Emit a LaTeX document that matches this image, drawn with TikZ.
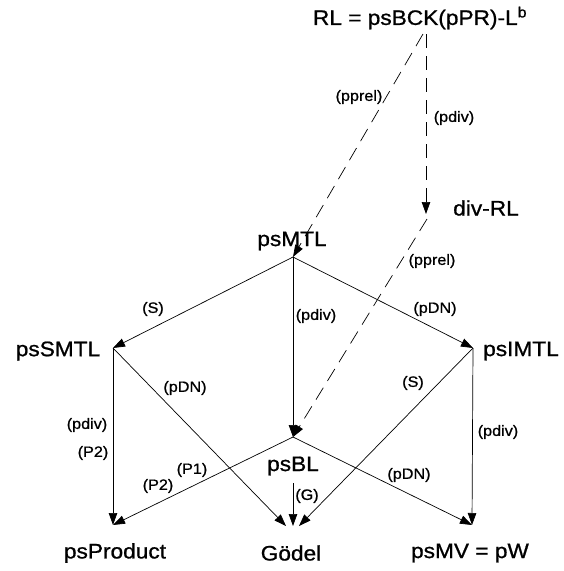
\documentclass[tikz,border=0pt]{standalone}
\usepackage{fontspec}
\setmainfont{Liberation Sans}[FakeStretch=1.08,FakeBold=0.9]
\usetikzlibrary{arrows.meta}
\begin{document}
\begin{tikzpicture}[x=1pt,y=-1pt,
  conn/.style={line width=0.7pt,-{Triangle[length=12pt,width=8.5pt]}},
  dconn/.style={conn,dash pattern=on 14pt off 8pt},
  bigtxt/.style={font=\fontsize{21}{23}\selectfont,inner sep=0pt},
  elab/.style={font=\fontsize{15}{17}\selectfont,inner sep=0pt}]
\useasboundingbox (0,0) rectangle (563,571);
% points
\coordinate (rla) at (423,34);
\coordinate (rlb) at (426,34);
\coordinate (div) at (426,214);
\coordinate (divs) at (427,219);
\coordinate (mtl) at (293,257);
\coordinate (smtl) at (113,348);
\coordinate (imtl) at (473,348);
\coordinate (bl) at (293,437);
\coordinate (blg) at (293,483);
\coordinate (prod) at (113,525);
\coordinate (g1) at (286,526);
\coordinate (g2) at (293,526);
\coordinate (g3) at (299,526);
\coordinate (mv) at (472,525);
% names
\node[bigtxt] (RL) at (420,18) {RL = psBCK(pPR)-L\textsuperscript{b}};
\node[bigtxt] (divRL) at (486,208) {div-RL};
\node[bigtxt] (MTL) at (292,241) {psMTL};
\node[bigtxt] (SMTL) at (58,351) {psSMTL};
\node[bigtxt] (IMTL) at (521,351) {psIMTL};
\node[bigtxt] (BL) at (293,466) {psBL};
\node[bigtxt] (Prod) at (115,553) {psProduct};
\node[bigtxt] (God) at (291,553) {Gödel};
\node[bigtxt] (MV) at (470,553) {psMV = pW};
% connectors
\draw[dconn] (rla) -- (mtl);
\draw[dconn] (rlb) -- (div);
\draw[dconn] (divs) -- (bl);
\draw[conn] (mtl) -- (smtl);
\draw[conn] (mtl) -- (imtl);
\draw[conn] (mtl) -- (bl);
\draw[conn] (smtl) -- (prod);
\draw[conn] (smtl) -- (g1);
\draw[conn] (imtl) -- (g3);
\draw[conn] (imtl) -- (mv);
\draw[conn] (bl) -- (prod);
\draw[conn] (bl) -- (mv);
\draw[conn] (blg) -- (g2);
% labels
\node[elab] (l1) at (359,97) {(pprel)};
\node[elab] (l2) at (454,118) {(pdiv)};
\node[elab] (l3) at (432,261) {(pprel)};
\node[elab] (l4) at (153,309) {(S)};
\node[elab] (l5) at (435,309) {(pDN)};
\node[elab] (l6) at (316,316) {(pdiv)};
\node[elab] (l7) at (185,388) {(pDN)};
\node[elab] (l8) at (413,383) {(S)};
\node[elab] (l9) at (87,425) {(pdiv)};
\node[elab] (l10) at (93,453) {(P2)};
\node[elab] (l11) at (158,486) {(P2)};
\node[elab] (l12) at (192,470) {(P1)};
\node[elab] (l13) at (307,496) {(G)};
\node[elab] (l14) at (409,475) {(pDN)};
\node[elab] (l15) at (498,432) {(pdiv)};
\end{tikzpicture}
\end{document}
